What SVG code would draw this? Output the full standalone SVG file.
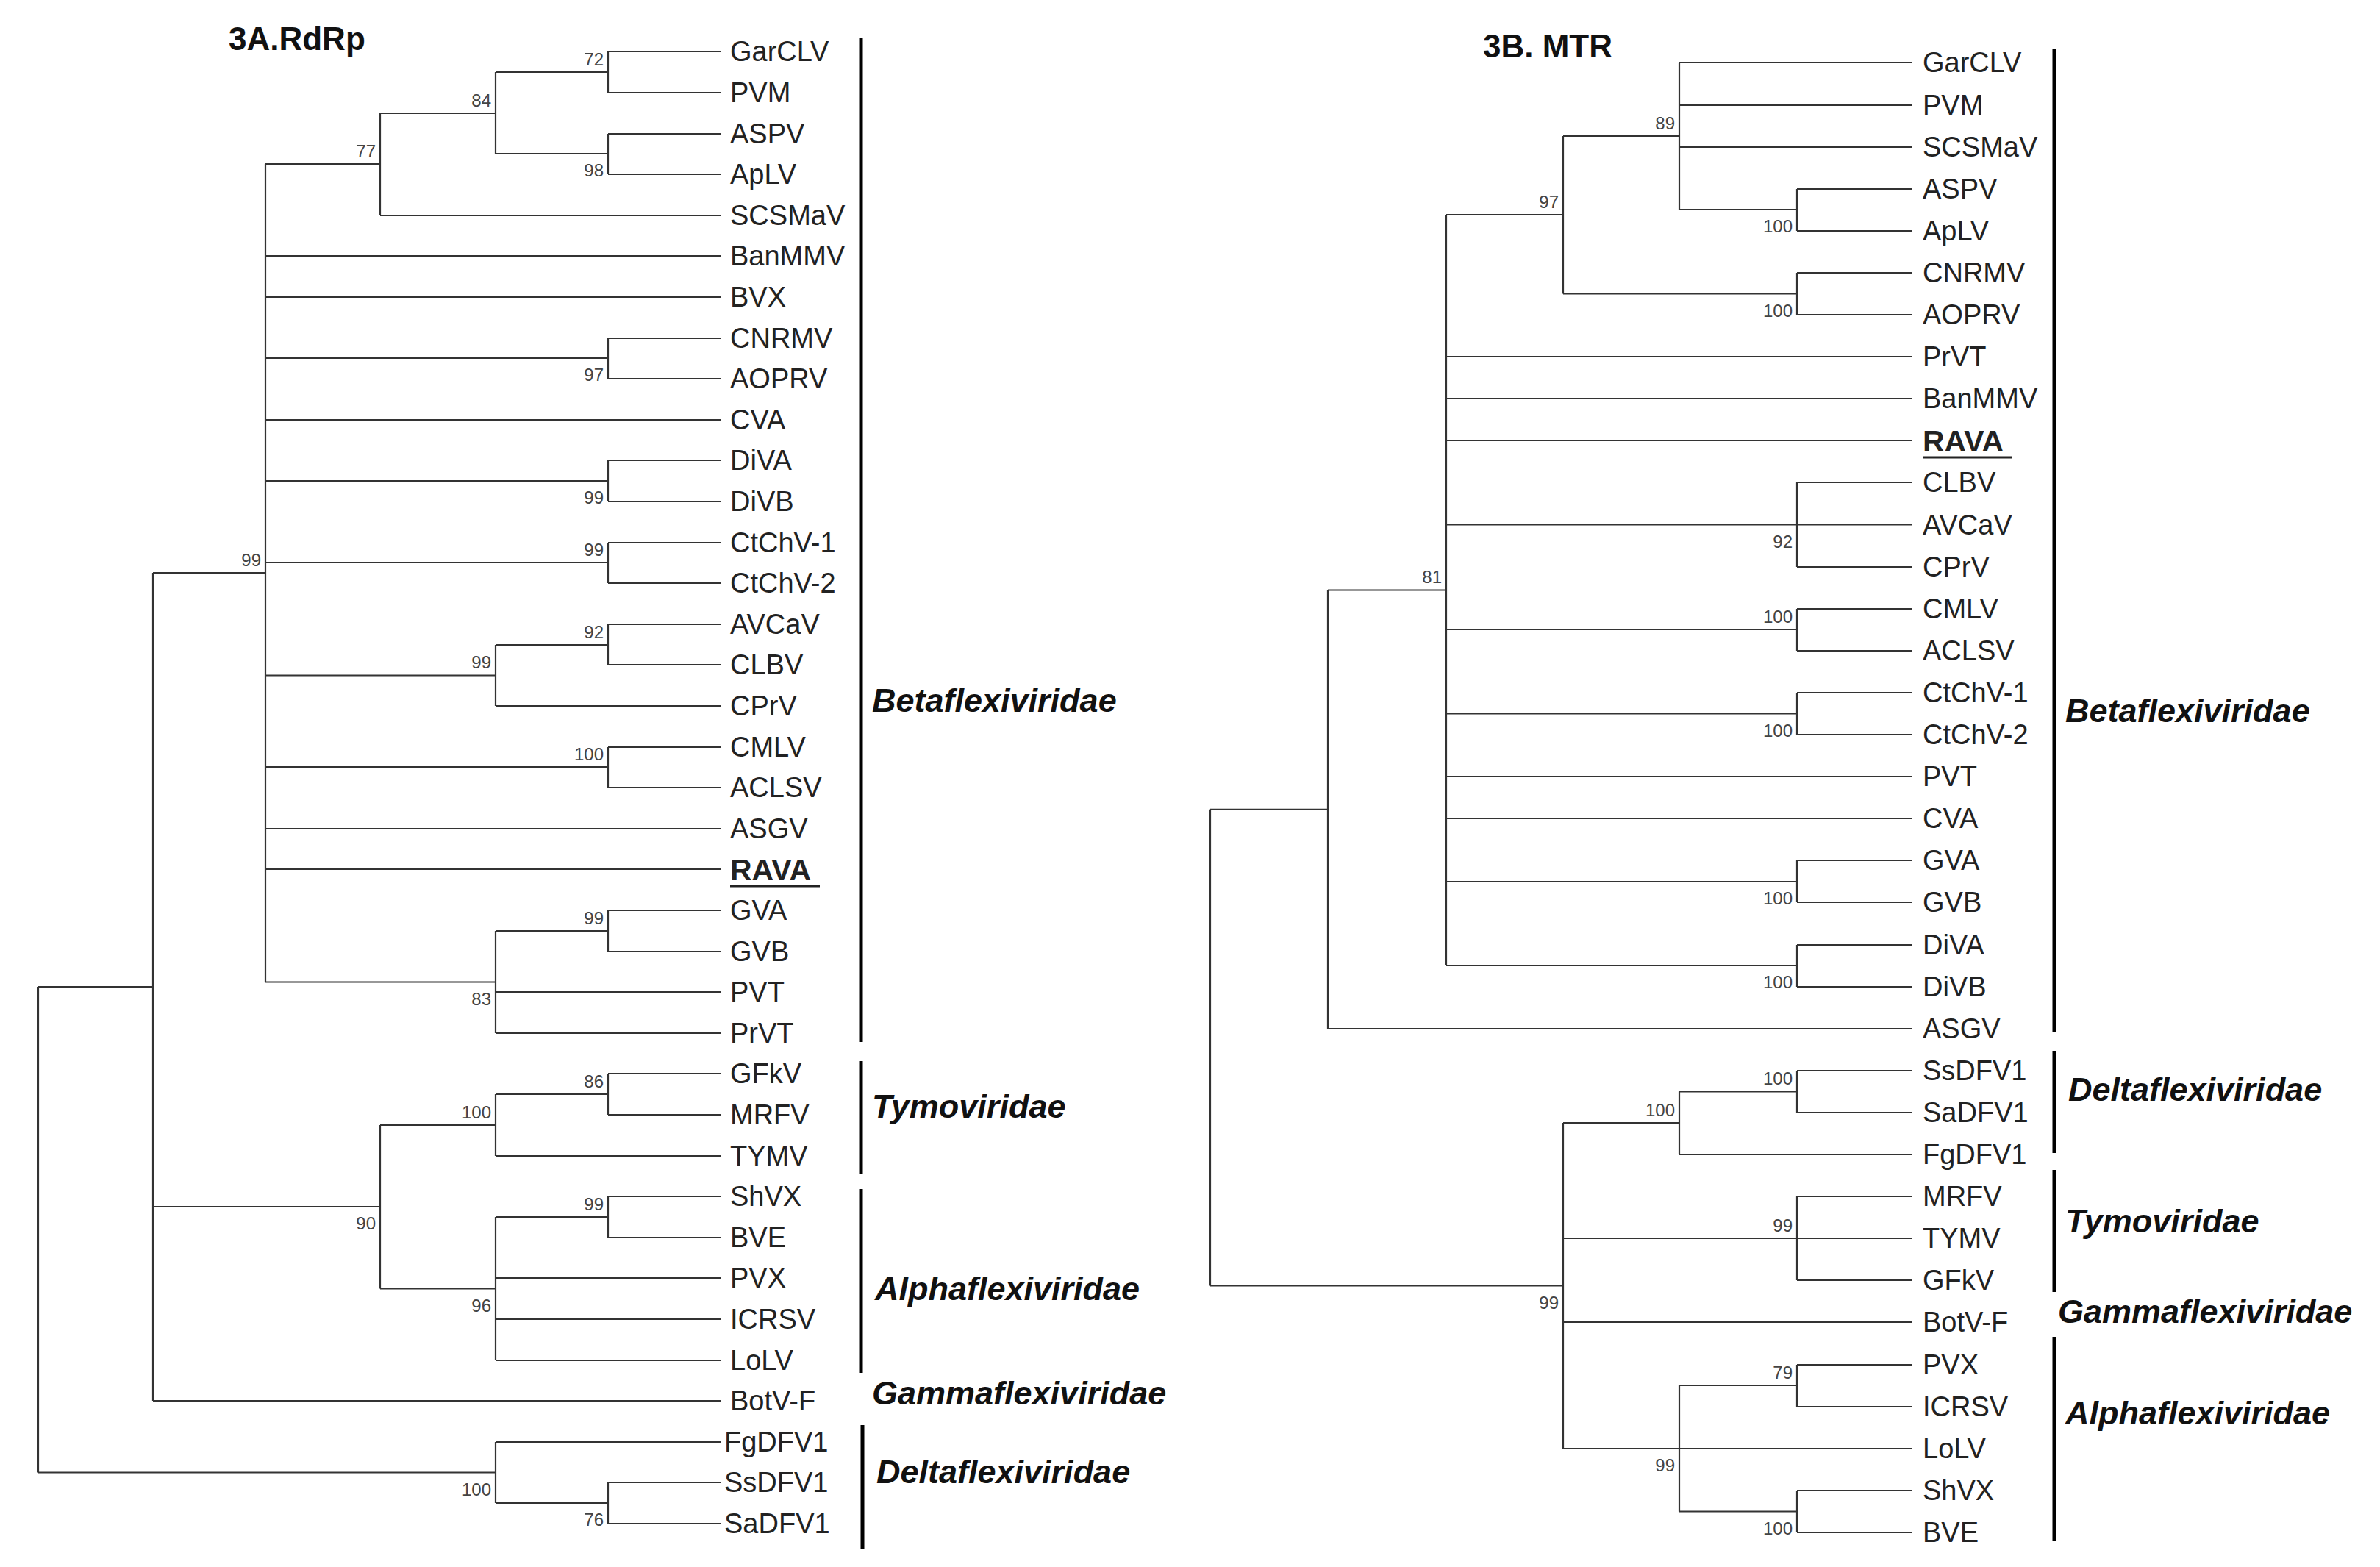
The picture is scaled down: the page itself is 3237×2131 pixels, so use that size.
<svg xmlns="http://www.w3.org/2000/svg" width="3237" height="2131" viewBox="0 0 3237 2131">
<style>
.e{fill:none;stroke:#333;stroke-width:2.2}
.bar{stroke:#000;stroke-width:5}
.lf{font-family:"Liberation Sans",Arial,sans-serif;font-size:38px;fill:#222}
.bs{font-family:"Liberation Sans",Arial,sans-serif;font-size:24px;fill:#444;text-anchor:end}
.fam{font-family:"Liberation Sans",Arial,sans-serif;font-size:45px;font-weight:bold;font-style:italic;fill:#111}
.ttl{font-family:"Liberation Sans",Arial,sans-serif;font-size:44px;font-weight:bold;fill:#111}
.rv{font-weight:bold;font-size:41px}
</style>
<rect width="3237" height="2131" fill="#fff"/>
<g id="connectors">
<path class="e" d="M52 1342V2002.5M52 1342H208M52 2002.5H674
M208 779V1905M208 779H361M208 1641H517M208 1905H981
M361 223V1335.5M361 223H517M361 348H981M361 404H981M361 487H827M361 571H981M361 654H827M361 765H827M361 918.5H674M361 1043H827M361 1127H981M361 1182H981M361 1335.5H674
M517 154V293M517 154H674M517 293H981
M674 98V209M674 98H827M674 209H827
M827 70V126M827 70H981M827 126H981
M827 182V237M827 182H981M827 237H981
M827 460V515M827 460H981M827 515H981
M827 626V682M827 626H981M827 682H981
M827 738V793M827 738H981M827 793H981
M674 877V960M674 877H827M674 960H981
M827 849V904M827 849H981M827 904H981
M827 1016V1071M827 1016H981M827 1071H981
M674 1266V1405M674 1266H827M674 1349H981M674 1405H981
M827 1238V1294M827 1238H981M827 1294H981
M517 1530V1752.5M517 1530H674M517 1752.5H674
M674 1488V1572M674 1488H827M674 1572H981
M827 1460V1516M827 1460H981M827 1516H981
M674 1655V1850M674 1655H827M674 1738H981M674 1794H981M674 1850H981
M827 1627V1683M827 1627H981M827 1683H981
M674 1961V2044M674 1961H981M674 2044H827
M827 2016V2072M827 2016H981M827 2072H981"/>
<path class="e" d="M1646 1100.75V1748.5M1646 1100.75H1806M1646 1748.5H2126
M1806 802.5V1399M1806 802.5H1967M1806 1399H2601
M1967 292V1313M1967 292H2126M1967 485H2601M1967 542H2601M1967 599H2601M1967 713.5H2444M1967 856H2444M1967 970.5H2444M1967 1056H2601M1967 1113H2601M1967 1199H2444M1967 1313H2444
M2126 185V399.5M2126 185H2284M2126 399.5H2444
M2284 85V285M2284 85H2601M2284 143H2601M2284 200H2601M2284 285H2444
M2444 257V314M2444 257H2601M2444 314H2601
M2444 371V428M2444 371H2601M2444 428H2601
M2444 656V771M2444 656H2601M2444 713.5H2601M2444 771H2601
M2444 828V885M2444 828H2601M2444 885H2601
M2444 942V999M2444 942H2601M2444 999H2601
M2444 1170V1227M2444 1170H2601M2444 1227H2601
M2444 1285V1342M2444 1285H2601M2444 1342H2601
M2126 1527V1970M2126 1527H2284M2126 1684H2444M2126 1798H2601M2126 1970H2284
M2284 1484.5V1570M2284 1484.5H2444M2284 1570H2601
M2444 1456V1513M2444 1456H2601M2444 1513H2601
M2444 1627V1741M2444 1627H2601M2444 1684H2601M2444 1741H2601
M2284 1884V2055.5M2284 1884H2444M2284 1970H2601M2284 2055.5H2444
M2444 1856V1913M2444 1856H2601M2444 1913H2601
M2444 2027V2084M2444 2027H2601M2444 2084H2601"/>
</g>
<g id="titles">
<text class="ttl" x="311" y="68">3A.RdRp</text>
<text class="ttl" x="2017" y="78">3B. MTR</text>
</g>
<g id="left-leaves" class="lf">
<g id="L-GarCLV"><text class="lf" x="993" y="83">GarCLV</text></g>
<g id="L-PVM"><text class="lf" x="993" y="139">PVM</text></g>
<g id="L-ASPV"><text class="lf" x="993" y="195">ASPV</text></g>
<g id="L-ApLV"><text class="lf" x="993" y="250">ApLV</text></g>
<g id="L-SCSMaV"><text class="lf" x="993" y="306">SCSMaV</text></g>
<g id="L-BanMMV"><text class="lf" x="993" y="361">BanMMV</text></g>
<g id="L-BVX"><text class="lf" x="993" y="417">BVX</text></g>
<g id="L-CNRMV"><text class="lf" x="993" y="473">CNRMV</text></g>
<g id="L-AOPRV"><text class="lf" x="993" y="528">AOPRV</text></g>
<g id="L-CVA"><text class="lf" x="993" y="584">CVA</text></g>
<g id="L-DiVA"><text class="lf" x="993" y="639">DiVA</text></g>
<g id="L-DiVB"><text class="lf" x="993" y="695">DiVB</text></g>
<g id="L-CtChV-1"><text class="lf" x="993" y="751">CtChV-1</text></g>
<g id="L-CtChV-2"><text class="lf" x="993" y="806">CtChV-2</text></g>
<g id="L-AVCaV"><text class="lf" x="993" y="862">AVCaV</text></g>
<g id="L-CLBV"><text class="lf" x="993" y="917">CLBV</text></g>
<g id="L-CPrV"><text class="lf" x="993" y="973">CPrV</text></g>
<g id="L-CMLV"><text class="lf" x="993" y="1029">CMLV</text></g>
<g id="L-ACLSV"><text class="lf" x="993" y="1084">ACLSV</text></g>
<g id="L-ASGV"><text class="lf" x="993" y="1140">ASGV</text></g>
<g id="L-RAVA"><text class="lf rv" x="993" y="1197">RAVA</text><line x1="993" y1="1205" x2="1115" y2="1205" stroke="#222" stroke-width="3"/></g>
<g id="L-GVA"><text class="lf" x="993" y="1251">GVA</text></g>
<g id="L-GVB"><text class="lf" x="993" y="1307">GVB</text></g>
<g id="L-PVT"><text class="lf" x="993" y="1362">PVT</text></g>
<g id="L-PrVT"><text class="lf" x="993" y="1418">PrVT</text></g>
<g id="L-GFkV"><text class="lf" x="993" y="1473">GFkV</text></g>
<g id="L-MRFV"><text class="lf" x="993" y="1529">MRFV</text></g>
<g id="L-TYMV"><text class="lf" x="993" y="1585">TYMV</text></g>
<g id="L-ShVX"><text class="lf" x="993" y="1640">ShVX</text></g>
<g id="L-BVE"><text class="lf" x="993" y="1696">BVE</text></g>
<g id="L-PVX"><text class="lf" x="993" y="1751">PVX</text></g>
<g id="L-ICRSV"><text class="lf" x="993" y="1807">ICRSV</text></g>
<g id="L-LoLV"><text class="lf" x="993" y="1863">LoLV</text></g>
<g id="L-BotV-F"><text class="lf" x="993" y="1918">BotV-F</text></g>
<g id="L-FgDFV1"><text class="lf" x="985" y="1974">FgDFV1</text></g>
<g id="L-SsDFV1"><text class="lf" x="985" y="2029">SsDFV1</text></g>
<g id="L-SaDFV1"><text class="lf" x="985" y="2085">SaDFV1</text></g>
</g>
<g id="left-bootstrap">
<text class="bs" x="821" y="89">72</text>
<text class="bs" x="821" y="240">98</text>
<text class="bs" x="668" y="145">84</text>
<text class="bs" x="511" y="214">77</text>
<text class="bs" x="821" y="518">97</text>
<text class="bs" x="821" y="685">99</text>
<text class="bs" x="821" y="756">99</text>
<text class="bs" x="821" y="868">92</text>
<text class="bs" x="668" y="909">99</text>
<text class="bs" x="821" y="1034">100</text>
<text class="bs" x="821" y="1257">99</text>
<text class="bs" x="668" y="1367">83</text>
<text class="bs" x="355" y="770">99</text>
<text class="bs" x="821" y="1479">86</text>
<text class="bs" x="668" y="1521">100</text>
<text class="bs" x="821" y="1646">99</text>
<text class="bs" x="668" y="1784">96</text>
<text class="bs" x="511" y="1672">90</text>
<text class="bs" x="668" y="2034">100</text>
<text class="bs" x="821" y="2075">76</text>
</g>
<g id="left-families">
<line class="bar" x1="1171" y1="51" x2="1171" y2="1417"/>
<line class="bar" x1="1171" y1="1443" x2="1171" y2="1596"/>
<line class="bar" x1="1171" y1="1617" x2="1171" y2="1867"/>
<line class="bar" x1="1173" y1="1938" x2="1173" y2="2107"/>
<text class="fam" x="1186" y="968">Betaflexiviridae</text>
<text class="fam" x="1186" y="1520">Tymoviridae</text>
<text class="fam" x="1190" y="1768">Alphaflexiviridae</text>
<text class="fam" x="1186" y="1910">Gammaflexiviridae</text>
<text class="fam" x="1192" y="2017">Deltaflexiviridae</text>
</g>
<g id="right-leaves">
<g id="R-GarCLV"><text class="lf" x="2615" y="98">GarCLV</text></g>
<g id="R-PVM"><text class="lf" x="2615" y="156">PVM</text></g>
<g id="R-SCSMaV"><text class="lf" x="2615" y="213">SCSMaV</text></g>
<g id="R-ASPV"><text class="lf" x="2615" y="270">ASPV</text></g>
<g id="R-ApLV"><text class="lf" x="2615" y="327">ApLV</text></g>
<g id="R-CNRMV"><text class="lf" x="2615" y="384">CNRMV</text></g>
<g id="R-AOPRV"><text class="lf" x="2615" y="441">AOPRV</text></g>
<g id="R-PrVT"><text class="lf" x="2615" y="498">PrVT</text></g>
<g id="R-BanMMV"><text class="lf" x="2615" y="555">BanMMV</text></g>
<g id="R-RAVA"><text class="lf rv" x="2615" y="614">RAVA</text><line x1="2615" y1="622" x2="2737" y2="622" stroke="#222" stroke-width="3"/></g>
<g id="R-CLBV"><text class="lf" x="2615" y="669">CLBV</text></g>
<g id="R-AVCaV"><text class="lf" x="2615" y="727">AVCaV</text></g>
<g id="R-CPrV"><text class="lf" x="2615" y="784">CPrV</text></g>
<g id="R-CMLV"><text class="lf" x="2615" y="841">CMLV</text></g>
<g id="R-ACLSV"><text class="lf" x="2615" y="898">ACLSV</text></g>
<g id="R-CtChV-1"><text class="lf" x="2615" y="955">CtChV-1</text></g>
<g id="R-CtChV-2"><text class="lf" x="2615" y="1012">CtChV-2</text></g>
<g id="R-PVT"><text class="lf" x="2615" y="1069">PVT</text></g>
<g id="R-CVA"><text class="lf" x="2615" y="1126">CVA</text></g>
<g id="R-GVA"><text class="lf" x="2615" y="1183">GVA</text></g>
<g id="R-GVB"><text class="lf" x="2615" y="1240">GVB</text></g>
<g id="R-DiVA"><text class="lf" x="2615" y="1298">DiVA</text></g>
<g id="R-DiVB"><text class="lf" x="2615" y="1355">DiVB</text></g>
<g id="R-ASGV"><text class="lf" x="2615" y="1412">ASGV</text></g>
<g id="R-SsDFV1"><text class="lf" x="2615" y="1469">SsDFV1</text></g>
<g id="R-SaDFV1"><text class="lf" x="2615" y="1526">SaDFV1</text></g>
<g id="R-FgDFV1"><text class="lf" x="2615" y="1583">FgDFV1</text></g>
<g id="R-MRFV"><text class="lf" x="2615" y="1640">MRFV</text></g>
<g id="R-TYMV"><text class="lf" x="2615" y="1697">TYMV</text></g>
<g id="R-GFkV"><text class="lf" x="2615" y="1754">GFkV</text></g>
<g id="R-BotV-F"><text class="lf" x="2615" y="1811">BotV-F</text></g>
<g id="R-PVX"><text class="lf" x="2615" y="1869">PVX</text></g>
<g id="R-ICRSV"><text class="lf" x="2615" y="1926">ICRSV</text></g>
<g id="R-LoLV"><text class="lf" x="2615" y="1983">LoLV</text></g>
<g id="R-ShVX"><text class="lf" x="2615" y="2040">ShVX</text></g>
<g id="R-BVE"><text class="lf" x="2615" y="2097">BVE</text></g>
</g>
<g id="right-bootstrap">
<text class="bs" x="2278" y="176">89</text>
<text class="bs" x="2438" y="316">100</text>
<text class="bs" x="2120" y="283">97</text>
<text class="bs" x="2438" y="431">100</text>
<text class="bs" x="1961" y="793">81</text>
<text class="bs" x="2438" y="745">92</text>
<text class="bs" x="2438" y="847">100</text>
<text class="bs" x="2438" y="1002">100</text>
<text class="bs" x="2438" y="1230">100</text>
<text class="bs" x="2438" y="1344">100</text>
<text class="bs" x="2438" y="1475">100</text>
<text class="bs" x="2278" y="1518">100</text>
<text class="bs" x="2438" y="1675">99</text>
<text class="bs" x="2120" y="1780">99</text>
<text class="bs" x="2438" y="1875">79</text>
<text class="bs" x="2278" y="2001">99</text>
<text class="bs" x="2438" y="2087">100</text>
</g>
<g id="right-families">
<line class="bar" x1="2794" y1="67" x2="2794" y2="1404"/>
<line class="bar" x1="2794" y1="1429" x2="2794" y2="1568"/>
<line class="bar" x1="2794" y1="1591" x2="2794" y2="1757"/>
<line class="bar" x1="2794" y1="1818" x2="2794" y2="2095"/>
<text class="fam" x="2809" y="982">Betaflexiviridae</text>
<text class="fam" x="2813" y="1497">Deltaflexiviridae</text>
<text class="fam" x="2809" y="1676">Tymoviridae</text>
<text class="fam" x="2799" y="1799">Gammaflexiviridae</text>
<text class="fam" x="2809" y="1937">Alphaflexiviridae</text>
</g>
</svg>
